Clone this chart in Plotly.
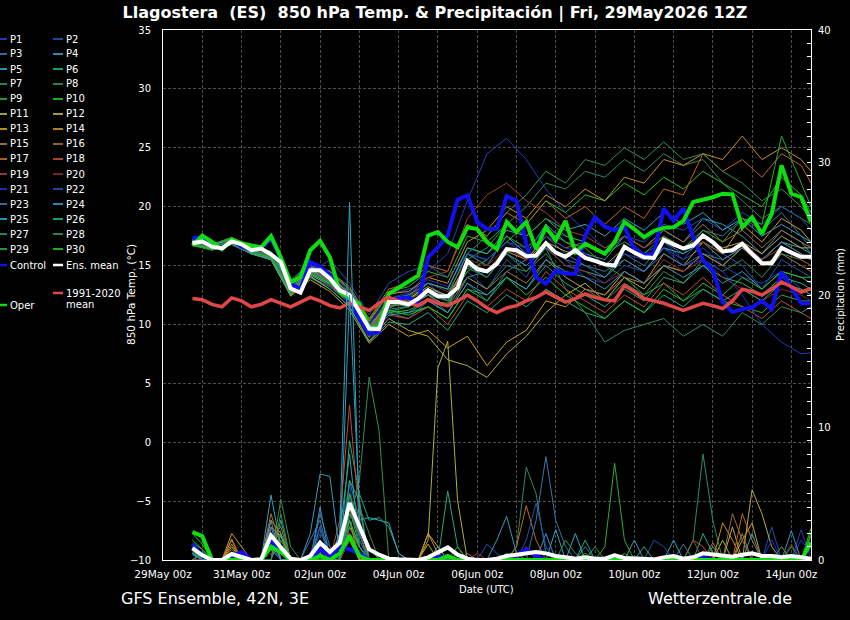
import plotly.graph_objects as go
import pandas as pd

# ---------------- time axes ----------------
times6 = pd.date_range("2026-05-29 18:00", periods=64, freq="6h")
member_times = list(times6[::2]) + [times6[-1]]   # 12-hourly samples of the members

# ---------------- main curves (6-hourly, degC) ----------------
clim_temp = [12.2,12.1,11.7,11.5,12.25,12.0,11.5,11.7,12.1,11.8,11.5,11.9,12.3,12.0,11.6,11.4,
             11.8,11.5,11.2,11.8,12.3,12.0,11.8,11.6,12.1,11.8,11.6,12.0,12.5,12.0,11.4,11.0,
             11.4,11.6,12.0,12.3,12.75,12.3,11.9,12.2,12.6,12.3,12.1,12.0,13.3,12.8,12.2,12.0,
             11.8,11.5,11.2,11.5,11.8,11.6,11.35,12.0,13.0,12.8,12.5,13.0,13.6,13.2,12.75,13.05]
control_temp = [17.35,17.4,16.9,16.5,17.1,16.6,16.3,16.5,17.3,15.6,13.45,13.0,15.3,14.9,14.2,12.9,
                12.05,10.5,9.2,9.35,11.9,12.2,12.3,11.9,15.7,16.55,17.6,20.6,20.95,18.7,18.1,18.1,
                20.9,20.5,16.85,14.0,13.45,14.6,14.3,14.3,17.55,19.1,18.3,18.0,18.3,16.4,15.85,16.0,
                19.85,18.8,19.85,17.4,15.45,14.6,11.9,11.05,11.3,11.45,12.0,11.3,14.45,13.2,11.8,11.8]
oper_temp = [16.7,17.55,17.0,16.4,17.2,16.9,16.7,16.55,17.5,15.7,13.6,14.0,16.3,17.1,15.7,12.75,
             12.2,11.75,9.65,9.8,12.6,13.1,13.6,14.15,17.55,17.85,17.0,16.55,18.25,18.1,17.0,16.4,
             18.7,17.85,18.7,16.4,18.25,17.15,18.8,16.15,16.85,16.4,16.0,17.0,18.7,18.1,17.4,17.95,
             18.2,18.25,18.8,20.4,20.6,20.8,21.1,21.05,18.25,19.1,17.7,19.4,23.5,21.1,20.8,18.7]
mean_temp = [16.9,17.05,16.6,16.45,17.05,16.8,16.3,16.45,15.95,15.3,13.05,12.7,14.6,14.6,13.9,12.9,
             12.5,11.0,9.65,9.6,11.9,11.9,11.7,12.2,12.9,12.4,12.4,13.1,15.4,14.7,14.5,15.15,
             16.4,16.3,15.8,15.85,16.9,16.1,15.75,16.3,15.65,15.4,15.1,15.0,16.6,16.1,15.7,15.65,
             17.2,16.8,16.45,16.7,17.55,17.0,16.2,16.3,16.85,16.0,15.2,15.2,16.5,16.1,15.75,15.75]

# ---------------- main precipitation (6-hourly, mm) ----------------
control_prec = [1.2,0.3,0,0,0.3,0.6,0,0,1.5,0.7,0,0,0,0.8,0.3,1.0,
                0.8,0.5,0,0,0,0,0,0,0,0.2,0.3,0,0,0,0,0,
                0,0.3,0.8,0.3,0,0,0,0,0,0,0,0,0,0,0,0,
                0,0,0,0,0.2,0,0,0,0,0,0,0,0,0,0.2,0]
oper_prec = [2.1,1.8,0,0,0,0,0,0,1.0,0.6,0,0,0,0.3,0,0.5,
             1.8,0.3,0,0,0,0,0,0,0,0,0.3,0,0,0,0,0,
             0,0,0,0,0,0,0,0,0,0,0,0,0,0,0,0,
             0,0,0,0,0,0,0,0,0,0,0,0,0,0,0,1.3]
mean_prec = [0.9,0.35,0,0,0.45,0.2,0,0.05,1.85,0.95,0.1,0,0.3,1.3,0.6,1.3,
             4.3,2.55,0.8,0.4,0.1,0.05,0,0,0.2,0.6,0.95,0.4,0.1,0,0,0.1,
             0.3,0.4,0.5,0.6,0.5,0.3,0.2,0.1,0.2,0.1,0.1,0.35,0.15,0.1,0.1,0.05,
             0.2,0.3,0.1,0.2,0.5,0.4,0.3,0.25,0.4,0.5,0.3,0.3,0.2,0.3,0.2,0.1]

# ---------------- perturbed members ----------------
member_names = ["P%d" % k for k in range(1, 31)]
member_colors = ["#2040b8", "#2050b0", "#3a74a6", "#3898bc", "#2ca6c0", "#22aa82", "#2e8c5c", "#3a8c50",
                 "#2eaa2e", "#20c020", "#b0b040", "#b8a850", "#c8a020", "#c89020", "#a07848", "#a06c3c",
                 "#c06820", "#c04c30", "#a04030", "#862a2a",
                 "#2034c8", "#2050b0", "#3a74a6", "#3898bc", "#2ca6c0", "#22aa82", "#2e8c5c", "#3a8c50",
                 "#2eaa2e", "#20c020"]

member_temp = [
    [17.1,16.4,17.3,16.2,15.8,13.2,14.9,13.8,12.6,9.9,11.8,12.6,14.5,16.0,20.5,24.5,25.8,24.0,21.5,19.5,18.0,16.5,17.5,16.0,17.0,15.5,16.5,15.0,14.0,13.5,14.5,13.0,12.5],
    [16.8,16.7,17.0,16.5,16.2,13.8,15.2,14.5,13.0,10.2,12.5,13.0,13.5,12.0,14.5,13.0,15.5,14.0,17.0,15.5,14.0,13.5,15.0,14.5,16.5,15.5,17.5,16.0,15.0,13.0,15.5,14.5,14.0],
    [17.2,16.5,17.0,16.0,15.5,12.5,14.0,13.2,11.8,9.0,11.0,10.5,12.0,11.0,13.5,12.0,14.5,15.5,17.5,16.0,15.0,14.0,16.0,15.0,17.0,16.0,18.0,17.5,19.0,18.0,19.5,17.5,16.5],
    [16.9,16.6,17.2,16.4,16.1,13.0,14.6,14.2,12.5,9.5,12.0,11.5,13.0,12.5,16.0,15.0,17.5,16.0,18.5,17.0,16.0,15.5,17.5,16.5,18.0,17.0,19.0,18.5,17.5,16.0,18.0,17.0,16.0],
    [17.0,16.6,17.1,16.2,16.0,13.4,15.0,14.0,12.2,9.6,11.5,12.0,12.5,11.5,15.0,14.0,16.0,15.0,16.5,15.0,14.5,14.0,15.5,14.5,16.5,16.0,17.0,15.5,16.5,15.5,17.0,16.5,16.0],
    [16.8,16.4,16.9,16.1,15.7,12.8,14.3,13.5,12.0,9.2,11.2,11.0,11.5,10.5,13.0,12.5,14.0,13.0,15.0,13.5,12.5,11.5,13.0,12.0,14.0,13.5,15.0,14.0,13.5,12.5,14.0,13.5,13.0],
    [17.1,16.7,17.2,16.4,16.0,13.2,14.5,13.8,12.5,9.8,12.2,12.5,13.0,12.0,15.5,16.5,18.5,20.0,22.0,21.5,23.0,22.5,24.0,23.0,24.5,23.5,24.0,22.0,20.5,19.0,20.0,19.0,18.5],
    [16.9,16.5,17.0,16.3,16.1,13.0,14.8,14.0,12.8,10.0,11.8,11.5,12.5,11.0,14.0,13.0,15.0,14.5,16.0,14.0,13.0,12.0,13.5,12.5,14.5,13.5,15.5,14.5,15.5,14.0,16.0,15.5,15.0],
    [17.0,16.8,17.4,16.6,16.2,13.6,15.3,14.2,12.6,9.4,11.4,12.0,13.5,13.0,16.5,16.0,17.5,16.5,18.0,17.0,16.5,15.0,14.0,12.5,13.5,12.0,13.0,12.0,11.5,11.0,12.5,12.0,12.0],
    [16.7,16.3,16.8,16.0,15.6,12.9,14.4,13.6,12.1,9.1,11.0,11.2,12.0,11.8,14.5,15.5,17.0,18.5,20.5,19.5,21.0,20.5,22.0,21.0,22.5,21.5,23.0,22.0,21.0,20.0,22.5,21.0,19.5],
    [16.9,16.5,16.9,16.1,15.7,12.6,14.1,13.0,11.5,8.6,10.5,9.5,9.0,7.0,6.5,5.5,7.5,9.0,11.0,12.5,13.5,12.0,14.0,13.0,15.0,14.5,16.0,15.0,16.5,15.5,17.0,16.0,15.5],
    [17.1,16.6,17.1,16.3,15.9,13.1,14.7,14.1,12.7,9.7,11.9,12.2,13.2,12.4,15.2,14.6,16.2,15.5,17.0,16.2,15.8,15.0,16.5,15.5,17.0,16.5,17.5,16.5,17.0,16.0,17.5,16.5,16.5],
    [16.8,16.4,16.8,16.0,15.5,12.4,13.8,12.8,11.2,8.4,10.0,9.0,9.5,8.0,9.0,6.5,8.5,9.5,12.0,11.5,13.0,12.5,14.5,13.5,16.0,15.0,17.0,16.0,18.5,17.0,19.0,18.0,17.0],
    [17.2,16.7,17.2,16.4,16.0,13.3,14.9,14.3,13.0,10.3,12.6,12.8,14.0,13.5,17.0,18.0,20.0,19.0,21.0,20.0,21.5,20.5,22.5,22.0,24.0,23.5,24.5,24.0,26.0,24.0,25.0,24.0,23.0],
    [16.9,16.5,17.0,16.2,15.8,12.9,14.5,13.7,12.3,9.5,11.6,11.8,12.5,11.5,14.0,13.0,14.5,13.5,15.5,14.0,13.0,12.5,14.0,13.5,15.0,14.5,16.0,15.0,16.5,15.0,16.0,15.0,14.5],
    [17.0,16.6,17.1,16.3,15.9,13.0,14.6,13.9,12.4,9.6,11.7,12.1,13.0,12.2,15.0,14.5,16.5,15.5,17.5,16.5,17.0,16.0,17.5,16.5,18.0,17.0,18.5,17.0,18.0,16.5,18.0,17.0,16.5],
    [17.1,16.6,17.2,16.4,16.0,13.5,15.0,14.5,13.2,10.5,13.0,13.5,15.0,14.5,18.5,17.5,19.5,18.5,20.5,19.0,20.0,18.5,20.0,19.0,21.5,21.0,24.5,23.0,24.0,22.5,24.5,23.5,22.0],
    [16.8,16.4,16.9,16.0,15.6,12.7,14.2,13.3,11.9,9.0,10.8,10.5,11.5,10.0,12.5,11.5,13.0,12.0,14.5,13.0,12.0,11.0,12.5,11.5,13.5,12.5,14.0,12.5,11.5,10.5,12.0,11.0,10.5],
    [17.0,16.5,17.0,16.2,15.8,13.1,14.7,14.0,12.5,9.7,11.8,12.4,14.0,14.5,19.0,21.0,22.0,20.5,19.5,18.0,17.5,16.5,17.5,16.5,17.5,16.5,17.0,16.0,17.0,15.5,16.5,15.5,15.0],
    [16.9,16.6,17.0,16.3,15.9,13.2,14.8,14.1,12.7,9.9,12.0,12.3,13.5,12.8,15.5,15.0,16.5,15.5,16.5,15.0,14.5,13.5,14.5,13.5,15.5,14.5,15.5,14.0,13.0,12.0,13.0,12.5,12.0],
    [17.1,16.7,17.1,16.4,16.0,13.4,15.0,14.3,12.9,10.1,12.2,12.7,13.8,13.2,16.0,15.5,17.0,16.0,17.5,16.5,16.0,15.0,16.0,15.5,16.5,15.0,15.5,14.5,12.5,10.0,8.5,7.5,7.6],
    [16.8,16.5,16.9,16.1,15.7,12.8,14.3,15.5,13.5,10.8,13.5,14.5,15.0,14.0,16.0,15.5,17.0,16.5,18.0,17.5,17.0,16.0,17.5,17.0,18.5,18.0,19.0,18.0,19.5,18.5,20.0,19.0,18.0],
    [17.0,16.6,17.1,16.3,15.9,13.0,14.6,13.8,12.2,9.3,11.3,11.5,12.5,12.0,14.0,14.5,16.0,15.0,16.5,15.5,15.0,14.5,15.5,14.5,16.0,15.0,16.0,15.5,16.5,15.5,17.0,16.0,15.5],
    [16.9,16.4,16.9,16.0,15.6,12.7,14.2,13.4,11.9,8.9,10.8,11.0,12.0,11.0,13.5,12.5,14.0,13.0,15.5,14.5,14.0,13.0,14.5,13.5,15.0,14.0,15.0,13.5,14.5,13.0,14.5,14.0,13.5],
    [17.1,16.7,17.3,16.5,16.1,13.3,14.9,14.1,12.6,9.8,11.9,12.5,13.5,13.0,16.5,16.0,18.0,17.5,19.0,18.0,18.5,17.5,19.0,18.0,19.5,18.5,19.5,18.0,19.0,17.5,18.5,17.5,17.0],
    [16.8,16.4,16.8,16.0,15.5,12.5,14.0,13.0,11.5,8.5,10.2,10.0,11.0,9.5,12.0,11.0,12.5,11.5,13.0,12.0,11.0,10.5,12.0,11.0,12.5,11.5,13.0,12.0,13.0,12.0,13.5,13.0,12.5],
    [17.0,16.6,17.1,16.3,15.9,13.1,14.7,13.9,12.3,9.4,11.5,11.8,12.8,12.0,14.8,14.0,16.0,14.5,16.5,13.0,11.0,8.5,9.5,10.0,10.5,9.0,10.0,9.0,11.0,10.0,11.5,11.0,11.5],
    [16.9,16.5,17.0,16.2,15.8,12.8,14.4,13.6,12.0,9.1,11.1,11.5,12.5,12.5,16.0,17.5,19.5,21.0,23.0,22.0,24.0,23.5,25.0,24.0,25.5,24.0,24.5,23.0,22.0,20.5,21.5,20.0,19.0],
    [17.2,16.8,17.3,16.5,16.1,13.5,15.2,14.5,13.0,10.4,12.8,13.2,14.5,14.0,17.5,17.0,18.5,17.5,19.0,17.5,17.0,16.0,17.0,16.0,17.5,16.5,18.0,17.0,19.0,18.5,26.0,22.0,20.0],
    [16.8,16.4,16.9,16.1,15.7,12.7,14.3,13.5,12.0,9.3,11.2,10.8,11.5,10.5,13.0,12.0,14.0,12.5,14.0,12.5,11.5,10.5,12.0,11.0,13.0,12.0,13.5,12.5,14.0,13.0,14.5,14.0,14.0],
]

member_prec = [
    [0.8,0.3,0,0,0,0,0,0,1.5,0.5,0,0,0,1.0,0,2.0, 5.6,1.5,0,0,0,0,0,0,0,0,0,0,0,0,0,0, 0,0,0,0,2.0,0,0,0,0,0,0,0,0,0,0,0, 0,0,0,0,0,0,0,0,0,0,0,0,0,0,2.3,0],
    [0.5,0,0,0,0.6,0,0,0,2.5,1.0,0,0,0,2.0,1.0,0, 3.5,2.0,0,0,0,0,0,0,0,0,0,0,0,0,1.2,0.5, 0,0,0,0,0,0,0,0,0,0,0,0,0,0,0,0, 0,0,0,0,0,0,0,0,0,0,0,2.5,0,0,0,0],
    [0.6,0,0,0,0,0,0,0,1.0,0,0,0,1.5,3.0,0,0, 6.0,3.0,0,0,0,0,0,0,0,0,0,0,0,0,0,0, 0,0,0,0,2.0,0,0,0,1.0,0,0,0,0,0,0,0, 0,0,1.2,0,0,0,0,0,0,0,0,0,0,0,0,0],
    [0,0.5,0,0,0,0,0,0,2.0,0,0,0,0,4.0,0,0, 20.0,4.0,0,0,0,0,0,0,0,1.0,0,0,0,0,0,0, 0,0,0,0,0,0,0,0,0,0,0,0,0,1.5,0,0, 0,0,0,0,0,0,0,0,0,0,0,0,0,0,0,0],
    [0.4,0,0,0,0,0,0,0,4.9,1.0,0,0,0,2.5,0,2.0, 8.0,1.0,0,0,0,0,0,0,0,0,0,0,0,0,0,0, 0.5,0,0,0,0,2.3,0,0,0,0,0,0,0,0,0,0, 0,1.5,0,0,0,0,0,0,0,0,0,0,0,0,0,0],
    [1.0,0,0,0,0,0,0,0,0,3.0,0,0,0,1.5,0,0, 9.0,5.0,3.0,3.2,2.5,0.5,0,0,0,0,0,0,0,0,0,0, 0,0,0,0,0,0,0,0,0,0,0,0,0,0,0,0, 0,0,0,0,0,1.0,0,0,0,0,0,0,0,0,0,0],
    [0,0.4,0,0,0,0,0,0,1.5,2.0,0,0,0,1.0,0,0, 4.0,2.0,0,0,0,0,0,0,0,0,0,0,0,0,0,0, 0,1.0,7.0,5.0,0.5,0,0,0,0,0,0,0,0,0,0,0, 0,0,0,0,0,0,0,0,0,0,0,0,0,0,0,0],
    [0.7,0,0,0,0,0,0,0,0,4.6,1.0,0,0,0.5,0,0, 3.0,6.0,13.8,9.8,0,0,0,0,0,0,0,0,0,0,0,0, 0,0,0,0,0,0,0,0,0,0,0,0.5,0,0,0,0, 0,0,0,0,0,0,0,0,0,0,0,0,0,0,0,0],
    [0.5,0,0,0,0,0,0,0,0.8,0,0,0,0,0,0,0, 2.5,1.0,0,0,0,0,0,0,0,0,0,0,0,0,0,0, 0,0,0,0,0,0,0,0,0,0,1.0,7.3,1.5,0,0,0, 0,0,0,0,0,0,0,0,0,0,0,0,0,1.0,0,0],
    [1.5,0.8,0,0,0,0,0,0,1.2,0,0,0,0,0,0,1.0, 4.0,1.0,0,0,0,0,0,0,0,0,0,0.5,0,0,0,0, 0,0,0,0,0,0,0,0,0,0,0,0,0,0,0,0, 0,0,0,0,0,0,0,0,0,0,0,0,0,0,0,2.4],
    [0,0,0,0,1.0,0,0,0,0.8,0,0,0,0,0,0,0, 1.5,0,0,0,0,0,0,0,1.5,14.5,16.5,4.5,0,0,0,0, 0,0,0,0,0,0,0,0,0,0,0,0,0,0,0,0, 0,0,0,0,0,0,1.5,0,0,0,0,0,0,0,0,0],
    [0,0,0,0,1.5,0,0,0,1.0,0,0,0,0,0.5,0,1.0, 2.0,0,0,0,0,0,0,0,2.0,1.0,0,0,0,0,0,0, 0,0,0,0,0,0,0,0,0,0,0,0,0,0,0,0, 0,0,0,0,0,0,0,2.5,0,5.3,3.5,1.0,0,0,0,0],
    [0,0,0,0,2.0,1.0,0,0,2.5,1.8,0,0,0,0,0,0, 3.0,0,0,0,0,0,0,0,1.2,0,0,0,0,0,0,0, 0,0,0,0,0,0,0,0,0,0,0,0,0,0,0,0, 0,0,0,0,0,0,0,0,1.5,2.8,0,0,0,0,0,0],
    [0,0,0,0,1.2,0,0,0,3.0,2.0,0,0,0,0,0,0, 2.0,0,0,0,0,0,0,0,2.0,0.5,0,0,0,0,0,0, 0,0,0,0,0,0,0,0,0,0,0,0,0,0,0,0, 0,0,0,0,0,0,2.8,1.5,0,0,0,0,0,0,0,0],
    [0,0,0,0,0,0.5,0,0,1.8,0,0,0,0,1.0,0,0, 2.5,1.0,0,0,0,0,0,0,0,0,0,0,0.5,0,0,0, 0,0,0,0,0,0,0,0,0,0,0,0,0,0,0,0, 0,0,0,0,0,0,0,0,2.0,0,0,0,0,0,0,0],
    [0,0,0,0,0.8,0,0,0,1.5,2.5,0,0,0,0,0,0, 4.0,1.5,0,0,0,0,0,0,0,0,0,0,0,0,0,0, 0,0,1.0,0,0,0,0,0,0,0,0,0,0,0,0,0, 0,0,0,0,0,0,0,3.5,1.5,0,0,0,0,0,0,0],
    [0,0,0,0,1.6,0,0,0,3.5,1.0,0,0,0,1.5,0,0, 5.0,2.0,0,0,0,0,0,0,0,0,0,0,0,0,0,0, 0,1.0,4.1,1.5,0,0,0,0,0,0,0,0,0,0,0,0, 0,0,0,0,0,1.3,0,0,3.5,1.5,0,0,0,0,0,0],
    [0,0,0,0,0,0,0,0,1.0,0,0,0,0,0.8,0,3.0, 11.7,3.0,0,0,0,0,0,0,0,0,0,0,0,0,0,0, 0,0,0,0,0,0,0,0,0,0,0,0,0,0,0,0, 0,0,0,1.5,1.0,0,0,0,0,0,0,0,0,0,0,0],
    [0,0,0,0,0,0,0,0,0.8,0,0,0,0,0,0,0, 2.0,1.0,0,0,0,0,0,0,0,0,0,0,0,0.5,0,0, 0,0,0,0,0,0,0,0,0,0,0,0,0,0,0,0, 0,0,0,1.5,0,0,0,0,0,0,0,0,1.0,0,0,0],
    [0,0,0,0,0,0,0,0,0.5,0.5,0,0,0,0,0,0, 1.5,0.5,0,0,0,0,0,0,0,0,0,0,0,0,0,0, 0,0,0,0,0,0,0,0,0,0,0,0,0,0,0,0, 0,0,0,0,0,0,0,0,0,0,0,0,0,1.2,0,0],
    [1.2,0,0,0,0,0,0,0,1.0,0,0,0,0,1.5,0,0, 3.0,1.0,0,0,0,0,0,0,0,0,0,0,0,0,0,0, 0,0,0,0,1.0,0,0,0,0,0,0,0,0,0,0,0, 0,0,0,0,0,0,0,0,0,0,0,1.5,0,0,1.5,0.5],
    [0.5,0,0,0,0,0,0,0,1.5,0,0,0,0.5,2.5,0,0, 4.5,1.5,0,0,0,0,0,0,0,0,0,0,0,0,0,0, 0,0,1.5,4.3,1.0,0,0,0,0,0,0,0,0,0,0,1.5, 1.0,0,0,0,0,0,0,0,0,0,0,0,0,0,0,0],
    [0.8,0,0,0,0,0,0,0,2.5,0,0,0,0,3.5,1.0,0, 5.0,2.0,0,0,0,0,0,0,0,0,0,0,0,0,0,0, 0,0,0,3.0,7.8,3.0,1.0,0,0,0,0,0,0,0,0,0, 0,0,0,0,0,0,0,0,0,0,0,0,0,0,0,0],
    [0,0.6,0,0,0,0,0,0,3.0,0,0,0,2.0,6.5,6.3,0.5, 3.0,1.0,0,0,0,0,0,0,0,0,0,0,0,0,0,1.5, 3.3,0.5,0,0,0,0,0,0,0,0,0,0,0,0,0,0, 0,0,0,0,0,0,0,0,0,0,0,0,0,2.2,0,0],
    [0.5,0,0,0,0,0,0,0,2.0,0,0,0,0,1.5,0,2.0, 27.0,3.0,3.2,3.0,2.8,0.5,0,0,0,0,0,0,0,0,0,0, 0,0,0,0,0,0,0,2.0,0,0,0,0,0,0,0,0, 0,0,0,0,0,0,0,0,0,2.0,0,0,0,0,0,0],
    [1.0,0,0,0,0,0,0,0,0,2.0,0,0,0,1.0,0,0, 6.0,4.5,0,0,0,0,0,0,0,0,5.2,1.0,0,0,0,0, 0,0,0,0,0,0,0,0,1.5,0,0,0,0,0,1.0,0, 0,0,0,0,2.0,0.5,0,0,0,0,0,0,0,0,0,0],
    [0.6,0,0,0,0,0,0,0,1.5,1.0,0,0,0,0,0,0, 3.5,2.0,0,0,0,0,0,0,0,0,0,0,0,0,0,0, 0,0,0,0,0,0,0,0,0,1.0,0,0,0,0,0,0, 0,0,0,1.5,8.0,3.0,0,0,0,0,0,0,0,0,0,0],
    [0,0.5,0,0,0,0,0,0,0,3.5,0,0,0,0,0,0, 2.5,4.0,2.0,0,0,0,0,0,0,0,0,0,0,0,0,0, 0,0,0,0,0,0,1.5,0.5,0,0,0,0,0,0,0,0, 0,0,0,0,0,0,0,0,0,0,0,0,1.0,0,0,0],
    [1.3,0.8,0,0,0,0,0,0,1.0,1.5,0,0,0,0,0,0, 5.0,2.5,1.0,0,0,0,0,0,0,0,0,1.0,0,0,0,0, 0,0,0,0,0,0,0,0,0,0,0,0,0.5,0,0,0, 0,0,0,0,0,0,0,0,0,0,0,0,0,0,0,1.8],
    [2.0,1.2,0,0,0,0,0,0,1.5,1.0,0,0,0,0,0,1.0, 3.0,1.0,0,0,0,0,0,0,0,0,0,0,0,0,0,0, 0,0,0,0,0,0,0,0,0.5,0,0,0,0,0,0,0, 0,0,0,0,0,0,0,0,0,0,0,0,0,0,0,2.0],
]

for row in member_temp:
    assert len(row) == len(member_times), len(row)
for row in member_prec:
    assert len(row) == len(times6), len(row)

COL_CONTROL = "#1010f0"
COL_MEAN = "#ffffff"
COL_OPER = "#10dd10"
COL_CLIM = "#e04848"

fig = go.Figure()

# member temperatures (thin)
for name, col, vals in zip(member_names, member_colors, member_temp):
    fig.add_trace(go.Scatter(x=member_times, y=vals, mode="lines", name=name,
                             line=dict(color=col, width=1), hoverinfo="skip"))
# main temperature curves
fig.add_trace(go.Scatter(x=times6, y=control_temp, mode="lines", name="Control",
                         line=dict(color=COL_CONTROL, width=4)))
fig.add_trace(go.Scatter(x=times6, y=oper_temp, mode="lines", name="Oper",
                         line=dict(color=COL_OPER, width=4)))
fig.add_trace(go.Scatter(x=times6, y=clim_temp, mode="lines", name="1991-2020 mean",
                         line=dict(color=COL_CLIM, width=3.5)))
fig.add_trace(go.Scatter(x=times6, y=mean_temp, mode="lines", name="Ens. mean",
                         line=dict(color=COL_MEAN, width=4)))

# precipitation on the right axis
for name, col, vals in zip(member_names, member_colors, member_prec):
    fig.add_trace(go.Scatter(x=times6, y=vals, mode="lines", name=name, yaxis="y2",
                             line=dict(color=col, width=1), hoverinfo="skip"))
fig.add_trace(go.Scatter(x=times6, y=control_prec, mode="lines", yaxis="y2",
                         line=dict(color=COL_CONTROL, width=4)))
fig.add_trace(go.Scatter(x=times6, y=oper_prec, mode="lines", yaxis="y2",
                         line=dict(color=COL_OPER, width=4)))
fig.add_trace(go.Scatter(x=times6, y=mean_prec, mode="lines", yaxis="y2",
                         line=dict(color=COL_MEAN, width=4)))

# ---------------- layout ----------------
L, R, T, B = 163, 39, 30, 60
W, H = 850, 620
PW, PH = W - L - R, H - T - B


def xp(px):
    return (px - L) / PW


def yp(py):
    return (H - B - py) / PH


GRID = "#4d4d4d"
FONT = "DejaVu Sans"

fig.update_layout(
    width=W, height=H,
    paper_bgcolor="black", plot_bgcolor="black",
    margin=dict(l=L, r=R, t=T, b=B),
    showlegend=False,
    font=dict(family=FONT, color="white", size=10),
    title=dict(text="Llagostera\u00a0\u00a0(ES)\u00a0\u00a0850 hPa Temp. & Precipitación | Fri, 29May2026 12Z",
               x=435 / W, xanchor="center", y=1 - 12 / H, yanchor="middle",
               font=dict(family=FONT, size=16, color="white", weight="bold")),
    xaxis=dict(type="date", range=["2026-05-29 00:00", "2026-06-14 12:00"],
               tick0="2026-05-29 00:00", dtick=2 * 86400000, tickformat="%d%b %Hz",
               showgrid=True, gridcolor=GRID, griddash="3px,2px", gridwidth=1,
               minor=dict(dtick=86400000, showgrid=True, gridcolor=GRID, griddash="3px,2px", gridwidth=1),
               showline=True, linecolor="white", linewidth=1, mirror=True,
               zeroline=False, ticks="", tickfont=dict(size=10.5, color="white"),
               ticklabelstandoff=4),
    yaxis=dict(range=[-10, 35], dtick=5, showgrid=True, gridcolor=GRID, griddash="3px,2px",
               gridwidth=1, showline=True, linecolor="white", linewidth=1, mirror=True,
               zeroline=False, ticks="", tickfont=dict(size=10, color="white"),
               ticklabelstandoff=9),
    yaxis2=dict(overlaying="y", side="right", range=[0, 40], dtick=10, showgrid=False,
                zeroline=False, ticks="inside", ticklen=4, tickcolor="white",
                minor=dict(dtick=1, ticks="inside", ticklen=4, tickcolor="white", showgrid=False),
                showline=True, linecolor="white", linewidth=1,
                tickfont=dict(size=10, color="white"), ticklabelstandoff=4),
)

annotations = []
shapes = []


def label(text, xpx, ypx, size, xanchor="center", angle=0):
    return dict(text=text, x=xp(xpx), y=yp(ypx), xref="paper", yref="paper",
                xanchor=xanchor, yanchor="middle", textangle=angle, showarrow=False,
                font=dict(size=size, color="white"))


# axis titles and footer
annotations.append(label("850 hPa Temp. (°C)", 131, 295, 10.5, angle=-90))
annotations.append(label("Precipitation (mm)", 840, 295, 10, angle=-90))
annotations.append(label("Date (UTC)", 486, 589, 10))
annotations.append(label("GFS Ensemble, 42N, 3E", 119, 598, 16, xanchor="left"))
annotations.append(label("Wetterzentrale.de", 794, 598, 16, xanchor="right"))

# hand-made two-column legend on the left
legend_items = []
for j in range(15):
    legend_items.append((member_names[2 * j], member_colors[2 * j], 1.8, 0, 39 + 15 * j))
    legend_items.append((member_names[2 * j + 1], member_colors[2 * j + 1], 1.8, 1, 39 + 15 * j))
legend_items.append(("Control", COL_CONTROL, 2.5, 0, 265))
legend_items.append(("Ens. mean", COL_MEAN, 2.5, 1, 265))
legend_items.append(("Oper", COL_OPER, 2.5, 0, 305))
legend_items.append(("1991-2020", COL_CLIM, 2.5, 1, 293))

col_geom = {0: (0, 7, 8), 1: (53, 63, 64)}
for text, col, lw, c, ypx in legend_items:
    x0, x1, xt = col_geom[c]
    shapes.append(dict(type="line", xref="paper", yref="paper", x0=xp(x0), x1=xp(x1),
                       y0=yp(ypx), y1=yp(ypx), line=dict(color=col, width=lw)))
    annotations.append(label(text, xt, ypx, 10, xanchor="left"))
annotations.append(label("mean", 64, 304, 10, xanchor="left"))

fig.update_layout(annotations=annotations, shapes=shapes)

fig.write_html("out.html", config={"displayModeBar": False},
               post_script="document.body.style.margin='0px';document.body.style.background='black';")
